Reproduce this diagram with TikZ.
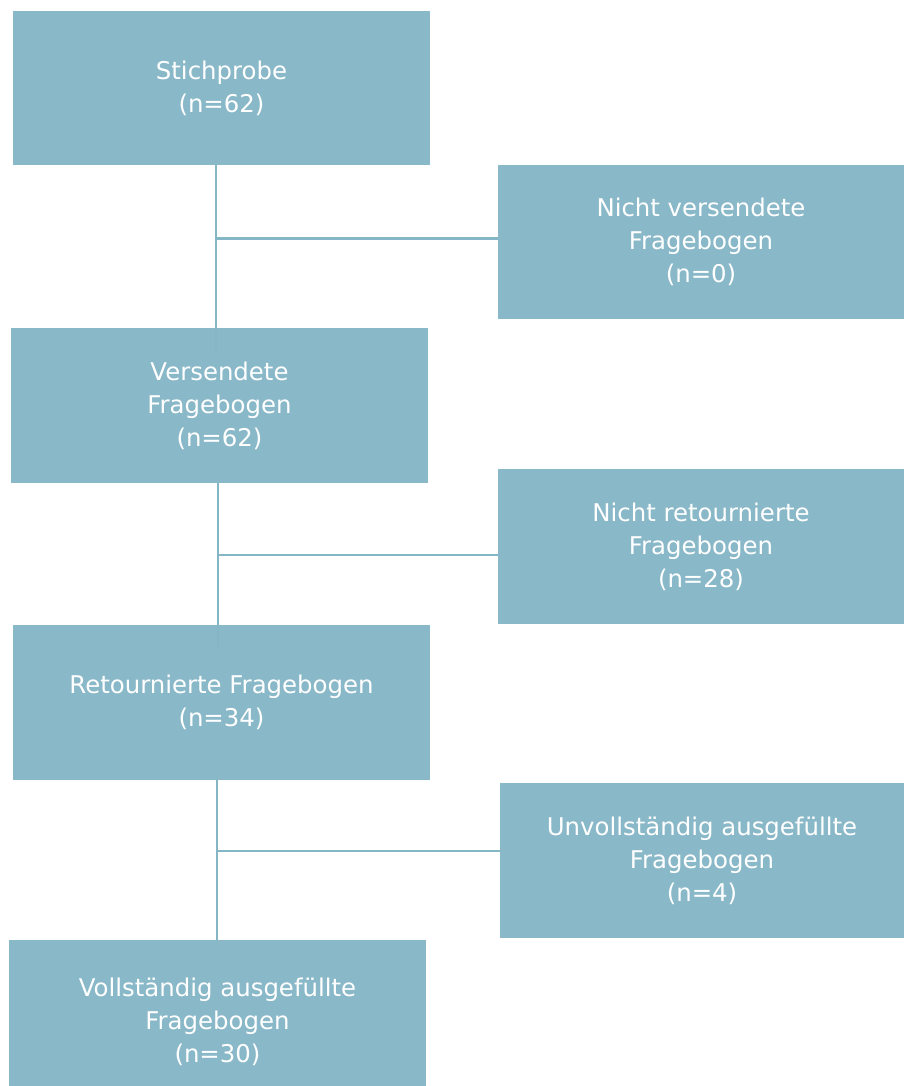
\documentclass[tikz,border=0pt]{standalone}
\usepackage{fontspec}
\setmainfont{DejaVu Sans}
\definecolor{boxc}{HTML}{89B8C8}
\definecolor{linec}{HTML}{84B6C6}
\begin{document}
\begin{tikzpicture}[x=0.75pt,y=-0.75pt,
  box/.style={fill=boxc,draw=none,text=white,align=center,inner sep=0pt,
    font=\fontsize{18.3}{24.75}\selectfont},
  conn/.style={draw=linec,line width=1.6pt}]
\useasboundingbox (0,0) rectangle (904,1086);
\node[box,minimum width=417*0.75pt,minimum height=154*0.75pt] (A) at (221.5,88) {Stichprobe\\(n=62)};
\node[box,minimum width=406*0.75pt,minimum height=154*0.75pt] (B) at (701,242) {Nicht versendete\\Fragebogen\\(n=0)};
\node[box,minimum width=417*0.75pt,minimum height=155*0.75pt] (C) at (219.5,405.5) {Versendete\\Fragebogen\\(n=62)};
\node[box,minimum width=406*0.75pt,minimum height=155*0.75pt] (D) at (701,546.5) {Nicht retournierte\\Fragebogen\\(n=28)};
\node[box,minimum width=417*0.75pt,minimum height=155*0.75pt] (E) at (221.5,702.5) {Retournierte Fragebogen\\(n=34)};
\node[box,minimum width=404*0.75pt,minimum height=155*0.75pt] (F) at (702,860.5) {Unvollständig ausgefüllte\\Fragebogen\\(n=4)};
\node[box,minimum width=417*0.75pt,minimum height=164*0.75pt] (G) at (217.5,1022) {Vollständig ausgefüllte\\Fragebogen\\(n=30)};
\coordinate (j1) at (216,238.5);
\coordinate (j2) at (218,555);
\coordinate (j3) at (217,851);
\draw[conn] (A.south -| j1) -- ([yshift=-17pt]C.north -| j1);
\draw[conn] ([xshift=1pt]j1) -- (B.west |- j1);
\draw[conn] (C.south -| j2) -- ([yshift=-17pt]E.north -| j2);
\draw[conn] ([xshift=1pt]j2) -- (D.west |- j2);
\draw[conn] (E.south -| j3) -- (G.north -| j3);
\draw[conn] ([xshift=1pt]j3) -- (F.west |- j3);
\end{tikzpicture}
\end{document}
